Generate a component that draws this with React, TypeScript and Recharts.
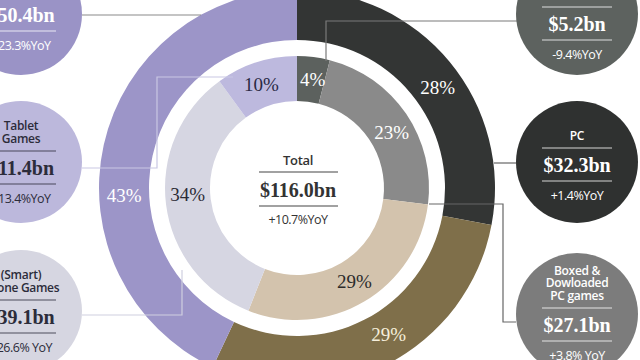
import React from 'react';
import { PieChart, Pie, Cell } from 'recharts';

// ring shares (% of total games market)
const outerNames = ['PC', 'Console', 'Mobile'];
const outerShares = [28, 29, 43];
const innerNames = ['Browser PC Games', 'Boxed & Dowloaded PC games', 'Console Games', '(Smart) Phone Games', 'Tablet Games'];
const innerShares = [4, 23, 29, 34, 10];

// callout bubbles
const calloutTitles = [[], ['Tablet', 'Games'], ['(Smart)', 'Phone Games'], [], ['PC'], ['Boxed &', 'Dowloaded', 'PC games']];
const calloutValues = ['$50.4bn', '$11.4bn', '$39.1bn', '$5.2bn', '$32.3bn', '$27.1bn'];
const calloutYoY = ['+23.3%YoY', '+13.4%YoY', '+26.6% YoY', '-9.4%YoY', '+1.4%YoY', '+3.8% YoY'];

const totalTitle = 'Total';
const totalValue = '$116.0bn';
const totalYoY = '+10.7%YoY';

// styling
const SERIF = '"Liberation Serif", "DejaVu Serif", serif';
const SANS = '"Open Sans", "Noto Sans", sans-serif';
const RADIAN = Math.PI / 180;
const CX = 297;
const CY = 188;

const outerColors = ['#333534', '#7f6f4a', '#9c95c8'];
const outerInk = ['#ffffff', '#f6efdc', '#ffffff'];
const outerNudge = [-4, 5, 15];
const innerColors = ['#5c615e', '#8a8a8a', '#d3c3ad', '#d6d6e2', '#bdb9de'];
const innerInk = ['#ffffff', '#ffffff', '#2b2b2b', '#2b2b35', '#2a2a45'];
const innerNudge = [-1, -4, 1, -4, 1];

const calloutLayout = [
  { cx: 21, cy: 14, valueY: 15, fill: '#9a93c6', ink: '#ffffff' },
  { cx: 21, cy: 162, valueY: 168, fill: '#bcb8dc', ink: '#2c2c3a' },
  { cx: 21, cy: 311, valueY: 317, fill: '#d6d6e1', ink: '#2c2c3a' },
  { cx: 577, cy: 14, valueY: 24, fill: '#5d625f', ink: '#ffffff' },
  { cx: 577, cy: 162, valueY: 165, fill: '#2f3130', ink: '#ffffff' },
  { cx: 577, cy: 314, valueY: 325, fill: '#7c7c7c', ink: '#ffffff' },
];

// connector paths from bubbles to ring segments
const connectors = [
  { d: 'M82,15 H201', stroke: '#8a8a8a' },
  { d: 'M82,168 H157 V77 H233', stroke: '#c9c7e3' },
  { d: 'M82,315 H182 V270', stroke: '#cfcfe0' },
  { d: 'M517,21 H326 V61', stroke: '#7a7a7a' },
  { d: 'M494,163 H516', stroke: '#666666' },
  { d: 'M429,204 H503 V322 H516', stroke: '#666666' },
];

const outerData = outerNames.map((name, i) => ({ name, value: outerShares[i] }));
const innerData = innerNames.map((name, i) => ({ name, value: innerShares[i] }));

const makeLabel = (ink: string[], nudge: number[]) => (props: any) => {
  const { cx, cy, midAngle, innerRadius, outerRadius, index, value } = props;
  const a = (midAngle + nudge[index]) * RADIAN;
  const r = (innerRadius + outerRadius) / 2;
  const x = cx + r * Math.cos(a);
  const y = cy - r * Math.sin(a);
  return (
    <text
      x={x}
      y={y}
      textAnchor="middle"
      dominantBaseline="central"
      fill={ink[index]}
      fontFamily={SERIF}
      fontSize={19}
    >
      {value}%
    </text>
  );
};

const Callout = ({ i }: { i: number }) => {
  const l = calloutLayout[i];
  const rule1 = l.valueY - 17;
  const rule2 = l.valueY + 16;
  const titles = calloutTitles[i];
  return (
    <g>
      <circle cx={l.cx} cy={l.cy} r={61} fill={l.fill} />
      {titles.map((t, k) => (
        <text
          key={k}
          x={l.cx}
          y={rule1 - 13 - (titles.length - 1 - k) * 12.5}
          textAnchor="middle"
          dominantBaseline="central"
          fill={l.ink}
          fontFamily={SANS}
          fontWeight={600}
          fontSize={12}
          letterSpacing={-0.3}
        >
          {t}
        </text>
      ))}
      <line x1={l.cx - 35} x2={l.cx + 35} y1={rule1} y2={rule1} stroke={l.ink} strokeOpacity={0.8} strokeWidth={1.2} />
      <text
        x={l.cx}
        y={l.valueY}
        textAnchor="middle"
        dominantBaseline="central"
        fill={l.ink}
        fontFamily={SERIF}
        fontWeight={700}
        fontSize={20}
      >
        {calloutValues[i]}
      </text>
      <line x1={l.cx - 35} x2={l.cx + 35} y1={rule2} y2={rule2} stroke={l.ink} strokeOpacity={0.8} strokeWidth={1.2} />
      <text
        x={l.cx}
        y={l.valueY + 30}
        textAnchor="middle"
        dominantBaseline="central"
        fill={l.ink}
        fontFamily={SANS}
        fontSize={12.5}
        letterSpacing={-0.5}
      >
        {calloutYoY[i]}
      </text>
    </g>
  );
};

export default function App() {
  return (
    <div style={{ position: 'fixed', left: 0, top: 0, width: 640, height: 360, overflow: 'hidden', background: '#ffffff' }}>
      <PieChart width={640} height={360} margin={{ top: 0, right: 0, bottom: 0, left: 0 }}>
        <Pie
          data={outerData}
          dataKey="value"
          cx={CX}
          cy={CY}
          innerRadius={148}
          outerRadius={198}
          startAngle={90}
          endAngle={-270}
          stroke="none"
          labelLine={false}
          label={makeLabel(outerInk, outerNudge)}
          isAnimationActive={false}
        >
          {outerData.map((d, i) => (
            <Cell key={d.name} fill={outerColors[i]} />
          ))}
        </Pie>
        <Pie
          data={innerData}
          dataKey="value"
          cx={CX}
          cy={CY}
          innerRadius={87}
          outerRadius={132}
          startAngle={90}
          endAngle={-270}
          stroke="none"
          labelLine={false}
          label={makeLabel(innerInk, innerNudge)}
          isAnimationActive={false}
        >
          {innerData.map((d, i) => (
            <Cell key={d.name} fill={innerColors[i]} />
          ))}
        </Pie>
      </PieChart>
      <svg width={640} height={360} style={{ position: 'absolute', left: 0, top: 0, pointerEvents: 'none' }}>
        {connectors.map((c, i) => (
          <path key={i} d={c.d} fill="none" stroke={c.stroke} strokeWidth={1.2} />
        ))}
        {calloutLayout.map((_, i) => (
          <Callout key={i} i={i} />
        ))}
        <text x={298} y={160} textAnchor="middle" dominantBaseline="central" fill="#333333" fontFamily={SANS} fontWeight={600} fontSize={13} letterSpacing={-0.3}>
          {totalTitle}
        </text>
        <line x1={259} x2={338} y1={172} y2={172} stroke="#444444" strokeWidth={1.2} />
        <text x={298} y={190} textAnchor="middle" dominantBaseline="central" fill="#333333" fontFamily={SERIF} fontWeight={700} fontSize={20}>
          {totalValue}
        </text>
        <line x1={259} x2={338} y1={206} y2={206} stroke="#444444" strokeWidth={1.2} />
        <text x={298} y={219} textAnchor="middle" dominantBaseline="central" fill="#333333" fontFamily={SANS} fontSize={12.5} letterSpacing={-0.5}>
          {totalYoY}
        </text>
      </svg>
    </div>
  );
}
